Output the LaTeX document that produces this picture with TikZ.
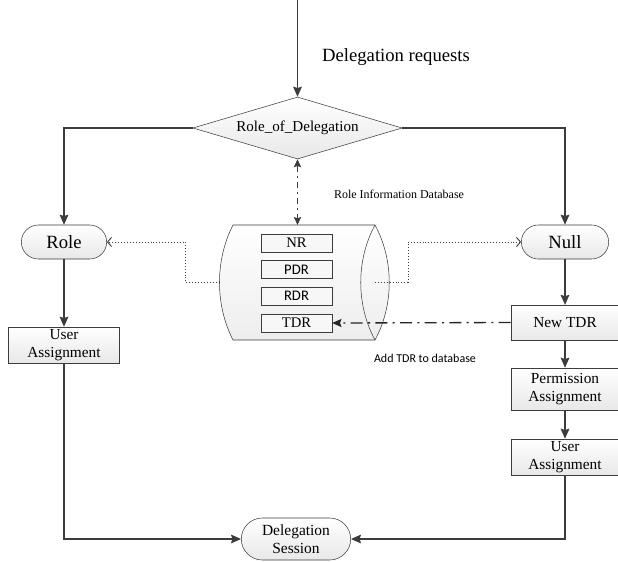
\documentclass[tikz,border=0pt]{standalone}
\usepackage{fontspec}
\setmainfont{Liberation Serif}
\newfontfamily\calibri{Carlito}
\usepackage{tikz}
\usetikzlibrary{shapes,arrows.meta}
\usepackage{xcolor}
\definecolor{lineGray}{HTML}{3C3C3C}

\begin{document}
\begin{tikzpicture}[
  x=0.75pt,y=-0.75pt,
  every node/.style={align=center},
  terminal/.style={draw=lineGray,rounded rectangle,top color=white,bottom color=gray!18,minimum height=25.5pt,inner sep=1pt,font=\rmfamily\fontsize{14}{15}\selectfont},
  process/.style={draw=lineGray,rectangle,top color=white,bottom color=gray!18,minimum width=81pt,inner sep=1pt,font=\rmfamily\fontsize{11.5}{13.5}\selectfont},
  decision/.style={draw=lineGray,diamond,top color=white,bottom color=gray!18,aspect=3.4,minimum width=157pt,minimum height=46.5pt,inner sep=0pt,font=\rmfamily\fontsize{11.3}{13}\selectfont},
  record/.style={draw=lineGray,rectangle,fill=gray!6,minimum width=53pt,minimum height=13.5pt,inner sep=0pt,font=\rmfamily\fontsize{11}{12}\selectfont},
  storage/.style={draw=lineGray,top color=white,bottom color=gray!14},
  flowArrow/.style={-{Stealth[length=7.5pt,width=6.5pt,inset=1pt]},line width=1.1pt,lineGray},
  infoLink/.style={-{Straight Barb[length=3pt,width=7pt]},lineGray,line width=0.7pt,dash pattern=on 0.7pt off 1.5pt},
  dbLink/.style={{Stealth[length=6pt,width=5.5pt,inset=1pt]}-{Stealth[length=6pt,width=5.5pt,inset=1pt]},lineGray,line width=0.9pt,dash pattern=on 5pt off 3pt on 1pt off 3pt},
  tdrLink/.style={-{Stealth[length=7pt,width=6pt,inset=1pt]},black!85,line width=1pt,dash pattern=on 9pt off 4pt on 1.5pt off 4pt}]

  \useasboundingbox (0,0) rectangle (618,561);

  % decision and the two outcomes
  \coordinate (entry) at (297.5,0);
  \node[decision] (decision) at (297.5,128) {Role\_of\_Delegation};
  \node[terminal,minimum width=66pt] (role) at (64,242) {Role};
  \node[terminal,minimum width=67.5pt] (null) at (565,242) {Null};

  % role information database, a cylinder lying on its side
  \shade[storage] (233,225) -- (375,225) .. controls (394,260) and (394,305) .. (375,340)
    -- (233,340) .. controls (215,305) and (215,260) .. (233,225) -- cycle;
  \draw[lineGray] (375,225) .. controls (356,260) and (356,305) .. (375,340);
  \coordinate (dbTop) at (297.5,225);
  \coordinate (dbWest) at (219.5,282.5);
  \coordinate (dbCap) at (375,282.5);
  \node[record] (nr) at (296.5,243) {NR};
  \node[record,font=\calibri\fontsize{11}{12}\selectfont] (pdr) at (296.5,269.5) {PDR};
  \node[record,font=\calibri\fontsize{11}{12}\selectfont] (rdr) at (296.5,296) {RDR};
  \node[record] (tdr) at (296.5,323) {TDR};

  % left and right branches
  \node[process,minimum width=83pt,minimum height=27pt] (userLeft) at (64,345) {User\\Assignment};
  \node[process,minimum height=26pt] (newTdr) at (565,322.5) {New TDR};
  \node[process,minimum height=31.5pt] (permission) at (565,389) {Permission\\Assignment};
  \node[process,minimum height=27pt] (userRight) at (565,457) {User\\Assignment};
  \node[terminal,minimum width=84pt,minimum height=31.5pt,font=\rmfamily\fontsize{11.6}{13.5}\selectfont] (session) at (296,539) {Delegation\\Session};

  % labels
  \node[font=\rmfamily\fontsize{14}{16}\selectfont] (reqLabel) at (396,57) {Delegation requests};
  \node[font=\rmfamily\fontsize{9}{10}\selectfont] (infoLabel) at (399,194) {Role Information Database};
  \node[font=\calibri\fontsize{9}{10}\selectfont] (addLabel) at (425,358) {Add TDR to database};

  % main flow
  \draw[flowArrow] (entry) -- (decision.north);
  \draw[flowArrow] (decision.west) -| (role.north);
  \draw[flowArrow] (decision.east) -| (null.north);
  \draw[flowArrow] (role.south) -- (userLeft.north);
  \draw[flowArrow] (userLeft.south) |- (session.west);
  \draw[flowArrow] (null.south) -- (newTdr.north);
  \draw[flowArrow] (newTdr.south) -- (permission.north);
  \draw[flowArrow] (permission.south) -- (userRight.north);
  \draw[flowArrow] (userRight.south) |- (session.east);

  % database links
  \draw[dbLink] (decision.south) -- (dbTop);
  \draw[infoLink] (dbWest) -- ++(-34,0) |- (role.east);
  \draw[infoLink] (dbCap) -- ++(33,0) |- (null.west);
  \draw[tdrLink] (newTdr.west) -- (tdr.east);
\end{tikzpicture}
\end{document}
